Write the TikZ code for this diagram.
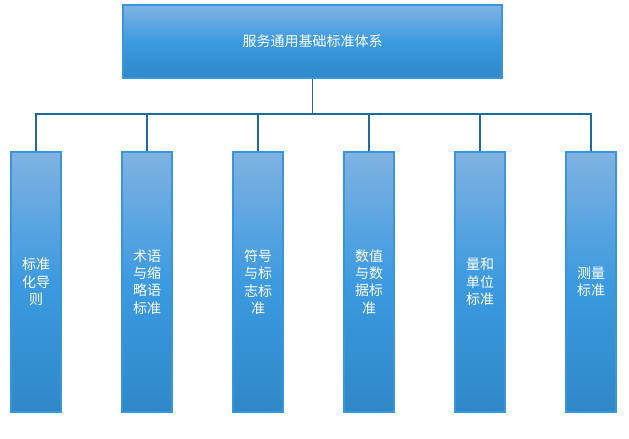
\documentclass[tikz,border=0pt]{standalone}
\usepackage{fontspec}
\newfontfamily\cjk{Noto Sans CJK SC}
\definecolor{ctop}{HTML}{80B2E2}
\definecolor{cmid}{HTML}{3C9AE0}
\definecolor{cbot}{HTML}{2F88C8}
\definecolor{cbord}{HTML}{3A96DC}
\definecolor{cline}{HTML}{1F6A9A}
\begin{document}
\begin{tikzpicture}[x=0.75pt,y=-0.75pt,
  box/.style={draw=cbord,line width=0.8pt,top color=ctop,bottom color=cbot,middle color=cmid,text=white,font=\cjk\fontsize{10.5pt}{13pt}\selectfont,align=center,inner sep=0pt},
  conn/.style={draw=cline,line width=0.9pt}]
\useasboundingbox (0,0) rectangle (629,439);
\node[box,minimum width=379*0.75pt,minimum height=73*0.75pt] (top) at (312.5,41.5) {服务通用基础标准体系};
\coordinate (bus) at (312.5,114);
\foreach \i/\x/\t in {1/36/{标准\\化导\\则},2/147/{术语\\与缩\\略语\\标准},3/258/{符号\\与标\\志标\\准},4/369/{数值\\与数\\据标\\准},5/480/{量和\\单位\\标准},6/591/{测量\\标准}}{
  \node[box,minimum width=50*0.75pt,minimum height=260*0.75pt] (c\i) at (\x,282) {\t};
}
\draw[conn] (top.south) -- (bus);
\draw[conn] (c1.north) -- (c1.north |- bus) -- (c6.north |- bus) -- (c6.north);
\foreach \i in {2,3,4,5}{\draw[conn] (c\i.north) -- (c\i.north |- bus);}
\end{tikzpicture}
\end{document}
